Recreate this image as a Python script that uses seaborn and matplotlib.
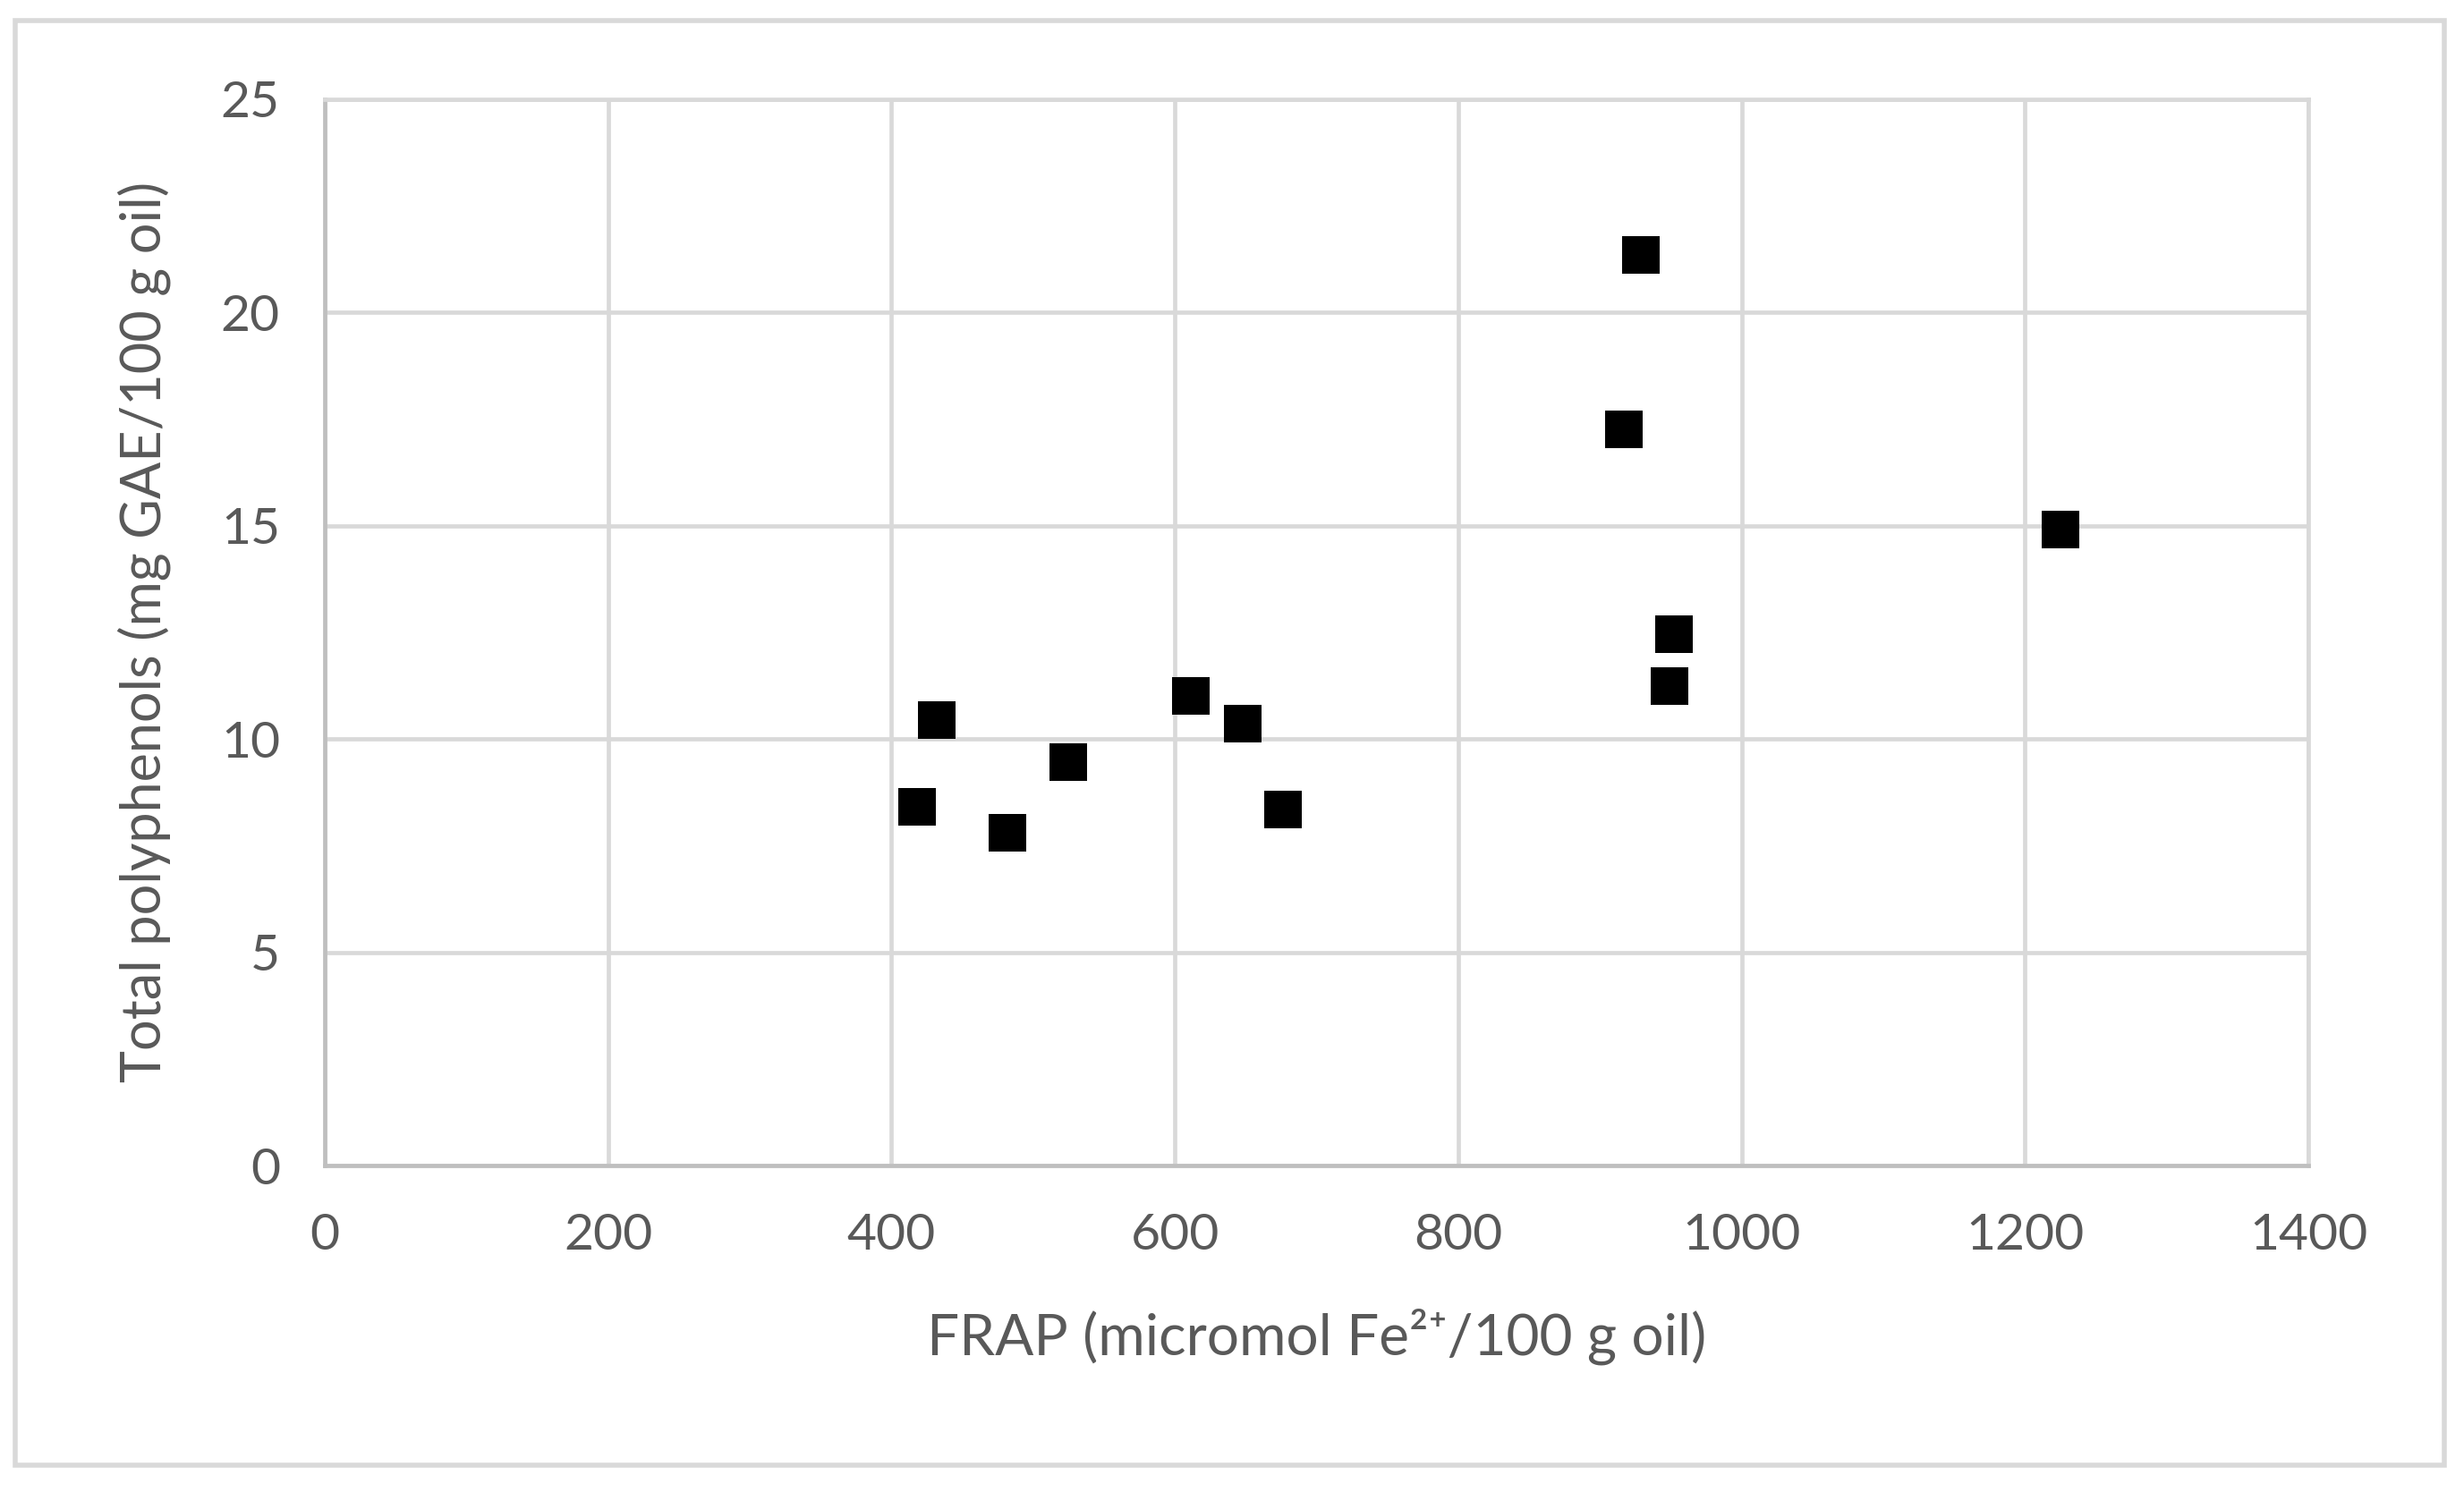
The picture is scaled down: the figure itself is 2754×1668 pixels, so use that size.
import pandas as pd
import matplotlib.pyplot as plt
import matplotlib.patches as mpatches
import seaborn as sns

# Werte
frap = [418, 432, 482, 525, 611, 648, 676, 917, 929, 952, 949, 1225]
polyphenols = [8.4, 10.45, 7.8, 9.45, 11.0, 10.35, 8.35, 17.25, 21.35, 12.45, 11.25, 14.9]

x_ticks = [0, 200, 400, 600, 800, 1000, 1200, 1400]
y_ticks = [0, 5, 10, 15, 20, 25]

df = pd.DataFrame({'frap': frap, 'tpc': polyphenols})

sns.set_style('white')
plt.rcParams['font.family'] = ['Lato', 'DejaVu Sans']

fig = plt.figure(figsize=(13.77, 8.34), dpi=200)
ax = fig.add_axes([0.1318, 0.2188, 0.8051, 0.7148])

sns.scatterplot(data=df, x='frap', y='tpc', marker='s', color='black',
                s=230, edgecolor='black', linewidth=0, ax=ax, zorder=3)

ax.set_xlim(0, 1400)
ax.set_ylim(0, 25)
ax.set_xticks(x_ticks)
ax.set_yticks(y_ticks)

ax.grid(True, color='#d9d9d9', linewidth=1.7)
ax.set_axisbelow(True)
for side in ['top', 'right']:
    ax.spines[side].set_color('#d9d9d9')
    ax.spines[side].set_linewidth(1.7)
for side in ['left', 'bottom']:
    ax.spines[side].set_color('#bfbfbf')
    ax.spines[side].set_linewidth(1.7)

ax.tick_params(axis='both', length=0, labelsize=20.5, labelcolor='#595959')
ax.tick_params(axis='x', pad=19)
ax.tick_params(axis='y', pad=18)

ax.set_xlabel('FRAP (micromol Fe²⁺/100 g oil)', fontsize=23, color='#595959', labelpad=20)
ax.set_ylabel('Total polyphenols (mg GAE/100 g oil)', fontsize=22, color='#595959', labelpad=20)

# Rahmen um die ganze Grafik
fig.patches.append(mpatches.Rectangle((0.006, 0.018), 0.986, 0.968, transform=fig.transFigure,
                                      fill=False, edgecolor='#d9d9d9', linewidth=2))

fig.savefig('out.png', dpi=200)
